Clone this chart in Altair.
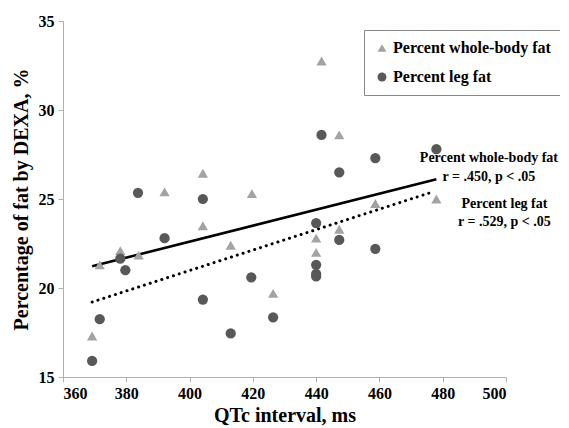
import altair as alt
import pandas as pd

# Percent whole-body fat (triangles)
wb_qtc = [369.2, 371.6, 378.1, 383.9, 392.1, 404.2, 404.2, 413.0, 419.7, 426.4,
          440.0, 440.0, 441.7, 447.3, 447.3, 458.7, 478.0]
wb_fat = [17.3, 21.3, 22.1, 21.85, 25.4, 26.45, 23.5, 22.4, 25.3, 19.7,
          22.8, 22.0, 32.75, 28.6, 23.3, 24.75, 25.0]

# Percent leg fat (circles)
leg_qtc = [369.2, 371.6, 378.1, 379.7, 383.7, 392.1, 404.2, 404.2, 413.0, 419.5,
           426.4, 440.0, 440.0, 440.0, 440.0, 441.7, 447.3, 447.3, 458.7, 458.7, 478.0]
leg_fat = [15.9, 18.25, 21.65, 21.0, 25.35, 22.8, 25.0, 19.35, 17.45, 20.6,
           18.35, 23.65, 21.3, 20.8, 20.65, 28.6, 26.5, 22.7, 27.3, 22.2, 27.8]

series_names = ["Percent whole-body fat", "Percent leg fat"]

# fitted lines (end points)
fit_wb_x = [369.2, 478.0]
fit_wb_y = [21.22, 26.11]
fit_leg_x = [369.2, 477.4]
fit_leg_y = [19.21, 25.43]

# annotations
ann_text = ["Percent whole-body fat", "r = .450, p < .05", "Percent leg fat", "r = .529, p < .05"]
ann_x = [494.6, 494.6, 499.5, 499.5]
ann_y = [27.29, 26.24, 24.7, 23.71]

pts = pd.DataFrame(
    {"qtc": wb_qtc + leg_qtc,
     "fat": wb_fat + leg_fat,
     "series": [series_names[0]] * len(wb_qtc) + [series_names[1]] * len(leg_qtc)}
)
fit_wb = pd.DataFrame({"qtc": fit_wb_x, "fat": fit_wb_y})
fit_leg = pd.DataFrame({"qtc": fit_leg_x, "fat": fit_leg_y})
ann = pd.DataFrame({"t": ann_text, "qtc": ann_x, "fat": ann_y})

FONT = "Liberation Serif"

xs = alt.Scale(domain=[360, 500], nice=False, zero=False)
ys = alt.Scale(domain=[15, 35], nice=False, zero=False)

xax = alt.Axis(values=list(range(360, 501, 20)), title="QTc interval, ms", grid=False,
               labelFont=FONT, labelFontSize=16, labelFontWeight="bold", labelColor="black",
               titleFont=FONT, titleFontSize=20, titleFontWeight="bold", titleColor="black",
               domainColor="#b0b0b0", tickColor="#b0b0b0", tickSize=5, labelPadding=3,
               titlePadding=4)
yax = alt.Axis(values=list(range(15, 36, 5)), title="Percentage of fat by DEXA, %", grid=False,
               labelFont=FONT, labelFontSize=16, labelFontWeight="bold", labelColor="black",
               titleFont=FONT, titleFontSize=20, titleFontWeight="bold", titleColor="black",
               domainColor="#b0b0b0", tickColor="#b0b0b0", tickSize=5, labelPadding=4,
               titlePadding=7)

points = alt.Chart(pts).mark_point(filled=True, size=105, opacity=1).encode(
    x=alt.X("qtc:Q", scale=xs, axis=xax),
    y=alt.Y("fat:Q", scale=ys, axis=yax),
    shape=alt.Shape("series:N", scale=alt.Scale(domain=series_names, range=["triangle-up", "circle"]),
                    legend=alt.Legend(title=None)),
    color=alt.Color("series:N", scale=alt.Scale(domain=series_names, range=["#a3a3a3", "#585858"]),
                    legend=alt.Legend(title=None)),
)

line_wb = alt.Chart(fit_wb).mark_line(color="black", strokeWidth=2.6).encode(
    x=alt.X("qtc:Q", scale=xs), y=alt.Y("fat:Q", scale=ys))
line_leg = alt.Chart(fit_leg).mark_line(color="black", strokeWidth=3, strokeDash=[0.1, 6],
                                         strokeCap="round").encode(
    x=alt.X("qtc:Q", scale=xs), y=alt.Y("fat:Q", scale=ys))

texts = alt.Chart(ann).mark_text(font=FONT, fontSize=14, fontWeight="bold", color="black",
                                 align="center", baseline="middle").encode(
    x=alt.X("qtc:Q", scale=xs), y=alt.Y("fat:Q", scale=ys), text="t:N")

chart = alt.layer(line_wb, line_leg, points, texts).properties(
    width=443, height=356,
    autosize=alt.AutoSizeParams(type="none"),
    padding={"left": 55, "top": 13, "right": 54, "bottom": 50},
).configure_view(stroke=None).configure_legend(
    orient="none", legendX=301, legendY=9, strokeColor="#888888", padding=10,
    labelFont=FONT, labelFontSize=16, labelFontWeight="bold", labelColor="black",
    symbolSize=80, rowPadding=13, symbolOpacity=1, labelLimit=300, labelOffset=3,
)

chart.save("out.html", embed_options={"renderer": "svg", "actions": False})
